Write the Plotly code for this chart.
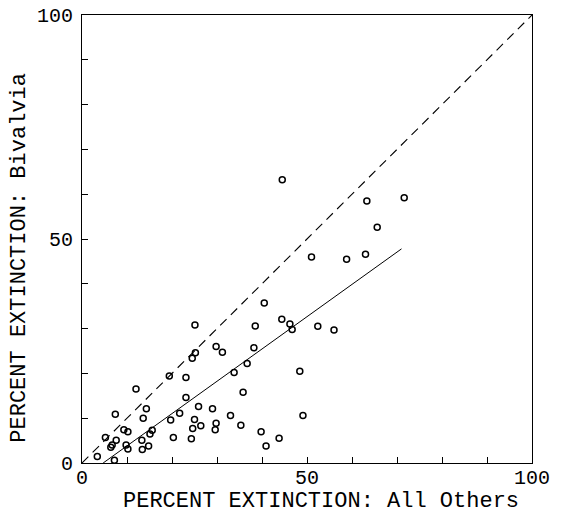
import plotly.graph_objects as go

# Percent extinction per interval: all other groups (x) vs. Bivalvia (y)
others_pct = [3.4, 7.2, 5.2, 6.4, 6.7, 7.6, 7.4, 9.3, 10.2, 9.8, 10.2, 12.0, 13.6, 14.3,
              13.3, 13.4, 14.8, 15.6, 15.1, 19.7, 20.3, 19.4, 23.1, 23.1, 21.7, 25.9,
              25.0, 24.6, 24.3, 26.4, 29.0, 29.8, 29.6, 33.0, 35.3, 35.8, 39.8, 40.9,
              43.8, 49.1, 48.4, 33.8, 36.7, 24.5, 25.2, 29.8, 31.2, 38.2, 25.1, 38.5,
              40.5, 44.4, 46.2, 46.7, 52.4, 56.0, 51.0, 58.8, 63.0, 65.6, 63.3, 71.6,
              44.5]
bivalvia_pct = [1.45, 0.6, 5.7, 3.5, 4.0, 5.1, 10.9, 7.4, 7.0, 4.0, 3.1, 16.5, 10.0, 12.1,
                5.1, 3.0, 3.8, 7.3, 6.5, 9.6, 5.7, 19.4, 19.1, 14.6, 11.1, 12.6,
                9.7, 7.7, 5.4, 8.3, 12.1, 8.9, 7.4, 10.6, 8.4, 15.8, 7.0, 3.8,
                5.5, 10.6, 20.5, 20.2, 22.2, 23.4, 24.6, 26.0, 24.7, 25.7, 30.8, 30.6,
                35.7, 32.1, 31.0, 29.8, 30.5, 29.7, 46.0, 45.5, 46.6, 52.6, 58.5, 59.2,
                63.2]

# Fitted regression line (end points) and the 1:1 reference line
fit_x = [4.7, 71.0]
fit_y = [0.0, 47.8]
equal_x = [0, 100]
equal_y = [0, 100]

tick_vals = [0, 10, 20, 30, 40, 50, 60, 70, 80, 90, 100]
tick_text = ["0", "", "", "", "", "50", "", "", "", "", "100"]

x_title = "PERCENT EXTINCTION: All Others"
y_title = "PERCENT EXTINCTION: Bivalvia"

FONT = "Liberation Mono, DejaVu Sans Mono, monospace"

fig = go.Figure()
fig.add_trace(go.Scatter(x=equal_x, y=equal_y, mode="lines",
                         line=dict(color="black", width=1.1, dash="9px,6px"),
                         hoverinfo="skip"))
fig.add_trace(go.Scatter(x=fit_x, y=fit_y, mode="lines",
                         line=dict(color="black", width=1),
                         hoverinfo="skip"))
fig.add_trace(go.Scatter(x=others_pct, y=bivalvia_pct, mode="markers",
                         marker=dict(symbol="circle-open", size=6, color="black",
                                     line=dict(width=1.5, color="black"))))

axis_common = dict(
    range=[0, 100], tickmode="array", tickvals=tick_vals, ticktext=tick_text,
    ticks="inside", ticklen=6, tickwidth=1, tickcolor="black",
    showline=True, linecolor="black", linewidth=1, mirror=True,
    showgrid=False, zeroline=False, automargin=False,
    tickfont=dict(family=FONT, size=20, color="black"),
)

fig.update_layout(
    width=564, height=520,
    margin=dict(l=82, r=32, t=15, b=57),
    paper_bgcolor="white", plot_bgcolor="white",
    showlegend=False,
    xaxis=dict(**axis_common, ticklabelstandoff=-4),
    yaxis=dict(**axis_common, ticklabelstandoff=4),
    annotations=[
        dict(text=x_title, xref="paper", yref="paper", x=0.53, y=-0.085,
             xanchor="center", yanchor="middle", showarrow=False,
             font=dict(family=FONT, size=22, color="black")),
        dict(text=y_title, xref="paper", yref="paper", x=-0.138, y=0.458,
             xanchor="center", yanchor="middle", showarrow=False, textangle=-90,
             font=dict(family=FONT, size=22, color="black")),
    ],
)

fig.write_html("out.html")
